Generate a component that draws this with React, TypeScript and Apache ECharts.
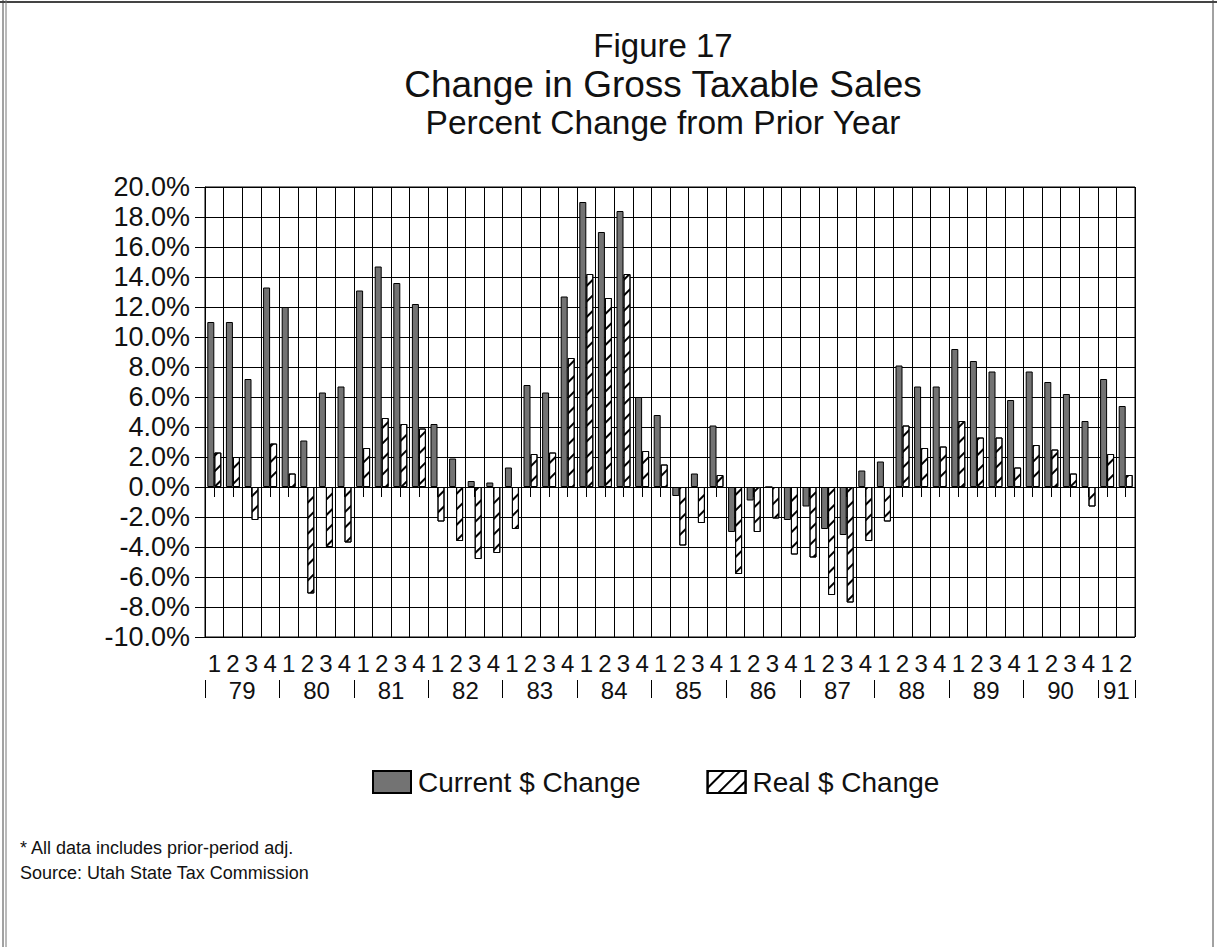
import React, { useEffect, useRef } from "react";
import * as echarts from "echarts";

const quarters = [
  "1","2","3","4","1","2","3","4","1","2","3","4","1","2","3","4",
  "1","2","3","4","1","2","3","4","1","2","3","4","1","2","3","4",
  "1","2","3","4","1","2","3","4","1","2","3","4","1","2","3","4",
  "1","2",
];

const years = ["79","80","81","82","83","84","85","86","87","88","89","90","91"];
const yearLabelPos = [2, 6, 10, 14, 18, 22, 26, 30, 34, 38, 42, 46, 49];
const yearSeparators = [0, 4, 8, 12, 16, 20, 24, 28, 32, 36, 40, 44, 48, 50];

const currentChange = [
  11.0, 11.0, 7.2, 13.3, 12.0, 3.1, 6.3, 6.7,
  13.1, 14.7, 13.6, 12.2, 4.2, 1.9, 0.4, 0.3,
  1.3, 6.8, 6.3, 12.7, 19.0, 17.0, 18.4, 6.0,
  4.8, -0.6, 0.9, 4.1, -3.0, -0.9, 0.0, -2.2,
  -1.3, -2.8, -3.2, 1.1, 1.7, 8.1, 6.7, 6.7,
  9.2, 8.4, 7.7, 5.8, 7.7, 7.0, 6.2, 4.4,
  7.2, 5.4,
];

const realChange = [
  2.3, 2.0, -2.2, 2.9, 0.9, -7.1, -4.0, -3.7,
  2.6, 4.6, 4.2, 3.9, -2.3, -3.6, -4.8, -4.4,
  -2.8, 2.2, 2.3, 8.6, 14.2, 12.6, 14.2, 2.4,
  1.5, -3.9, -2.4, 0.8, -5.8, -3.0, -2.1, -4.5,
  -4.7, -7.2, -7.7, -3.6, -2.3, 4.1, 2.6, 2.7,
  4.4, 3.3, 3.3, 1.3, 2.8, 2.5, 0.9, -1.3,
  2.2, 0.8,
];

const FONT = '"Liberation Sans", Arial, Helvetica, sans-serif';

export default function App() {
  const ref = useRef<HTMLDivElement>(null);
  useEffect(() => {
    if (!ref.current) return;
    const chart = echarts.init(ref.current, null, { renderer: "svg" });
    const line = { color: "#000", width: 1 };
    chart.setOption({
      animation: false,
      backgroundColor: "#fff",
      grid: {
        left: 205, top: 187, width: 930, height: 450,
        show: true, borderColor: "#000", borderWidth: 1,
      },
      legend: {
        show: true,
        left: 367,
        top: 763,
        itemWidth: 38,
        itemHeight: 22,
        itemGap: 66,
        icon: "rect",
        textStyle: { fontSize: 28, fontFamily: FONT, color: "#111", padding: [0, 0, 0, 2] },
        data: ["Current $ Change", "Real $ Change"],
      },
      xAxis: [
        {
          type: "category",
          data: quarters,
          axisLine: { show: true, lineStyle: line },
          axisTick: { show: true, alignWithLabel: true, length: 10, lineStyle: line },
          axisLabel: { interval: 0, margin: 14, fontSize: 24, fontFamily: FONT, color: "#111" },
          splitLine: { show: true, interval: 0, lineStyle: line },
        },
        {
          type: "value",
          min: 0,
          max: 50,
          position: "bottom",
          offset: 43,
          axisLine: { show: false },
          axisTick: { show: true, customValues: yearSeparators, length: 18, lineStyle: line },
          axisLabel: {
            customValues: yearLabelPos,
            margin: 10,
            verticalAlign: "middle",
            fontSize: 24,
            fontFamily: FONT,
            color: "#111",
            formatter: (v: number) => {
              const i = yearLabelPos.indexOf(v);
              return i >= 0 ? years[i] : "";
            },
          },
          splitLine: { show: false },
        },
      ],
      yAxis: {
        type: "value",
        min: -10,
        max: 20,
        interval: 2,
        axisLine: { show: true, lineStyle: line },
        axisTick: { show: true, length: 10, lineStyle: line },
        axisLabel: {
          margin: 15,
          fontSize: 27,
          fontFamily: FONT,
          color: "#111",
          formatter: (v: number) => v.toFixed(1) + "%",
        },
        splitLine: { show: true, lineStyle: line },
      },
      series: [
        {
          name: "Current $ Change",
          type: "bar",
          data: currentChange,
          barWidth: 7,
          barGap: "0%",
          itemStyle: { color: "#737373", borderColor: "#000", borderWidth: 1 },
        },
        {
          name: "Real $ Change",
          type: "bar",
          data: realChange,
          barWidth: 7,
          itemStyle: {
            color: "#fff",
            borderColor: "#000",
            borderWidth: 1,
            decal: {
              symbol: "rect",
              symbolSize: 1,
              dashArrayX: [1, 0],
              dashArrayY: [1.2, 9],
              rotation: -Math.PI / 4,
              color: "#000",
            },
          },
        },
      ],
      graphic: [
        { type: "line", shape: { x1: 0, y1: 2, x2: 1217, y2: 2 }, style: { stroke: "#444", lineWidth: 2 } },
        { type: "line", shape: { x1: 3, y1: 0, x2: 3, y2: 947 }, style: { stroke: "#444", lineWidth: 1 } },
        { type: "line", shape: { x1: 6, y1: 0, x2: 6, y2: 947 }, style: { stroke: "#777", lineWidth: 1 } },
        { type: "line", shape: { x1: 1213, y1: 0, x2: 1213, y2: 947 }, style: { stroke: "#444", lineWidth: 1 } },
        {
          type: "text", x: 663, y: 45,
          style: { text: "Figure 17", fontSize: 33, fontFamily: FONT, fill: "#111", textAlign: "center", textVerticalAlign: "middle" },
        },
        {
          type: "text", x: 663, y: 84,
          style: { text: "Change in Gross Taxable Sales", fontSize: 37, fontFamily: FONT, fill: "#111", textAlign: "center", textVerticalAlign: "middle" },
        },
        {
          type: "text", x: 663, y: 122,
          style: { text: "Percent Change from Prior Year", fontSize: 33.5, fontFamily: FONT, fill: "#111", textAlign: "center", textVerticalAlign: "middle" },
        },
        {
          type: "text", x: 20, y: 848,
          style: { text: "* All data includes prior-period adj.", fontSize: 18, fontFamily: FONT, fill: "#111", textAlign: "left", textVerticalAlign: "middle" },
        },
        {
          type: "text", x: 20, y: 873,
          style: { text: "Source: Utah State Tax Commission", fontSize: 18, fontFamily: FONT, fill: "#111", textAlign: "left", textVerticalAlign: "middle" },
        },
      ],
    });
    return () => chart.dispose();
  }, []);
  return (
    <div
      ref={ref}
      style={{ position: "fixed", left: 0, top: 0, width: 1217, height: 947, background: "#fff" }}
    />
  );
}
